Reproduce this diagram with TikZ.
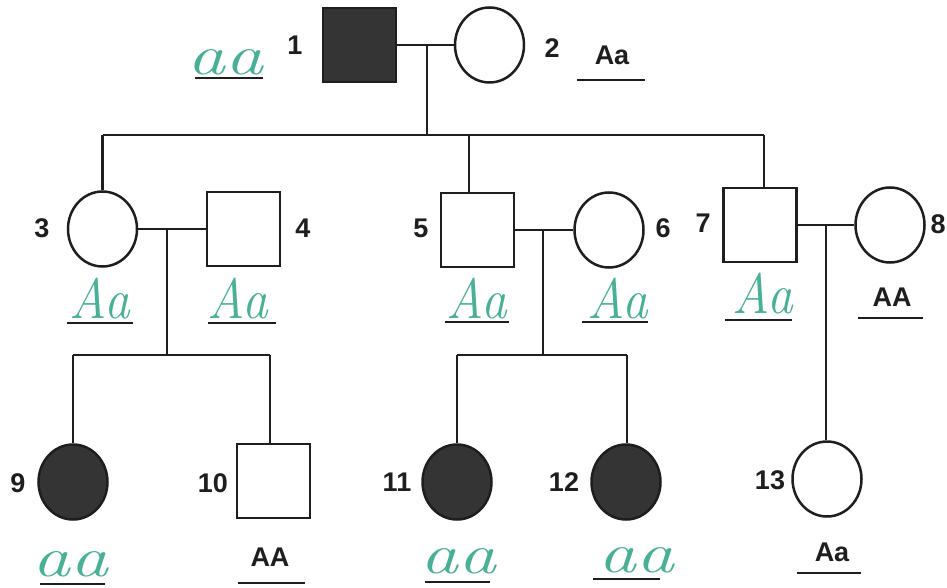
\documentclass[tikz,border=0pt]{standalone}
\usepackage{fontspec}
\newfontfamily\numfont{Liberation Sans}
\usetikzlibrary{shapes.geometric}
\definecolor{handc}{RGB}{72,176,150}
\definecolor{ink}{RGB}{30,30,30}
\definecolor{affect}{RGB}{52,52,52}
\tikzset{
  male/.style={draw=ink,line width=2.5pt,rectangle,minimum width=73pt,minimum height=74pt,inner sep=0pt},
  female/.style={draw=ink,line width=2.5pt,ellipse,minimum width=69pt,minimum height=75pt,inner sep=0pt},
  affected/.style={fill=affect},
  num/.style={font=\numfont\bfseries\fontsize{27}{27}\selectfont,text=ink,inner sep=0pt},
  geno/.style={font=\numfont\bfseries\fontsize{27}{27}\selectfont,text=ink,inner sep=0pt},
  hand/.style={font=\itshape\fontsize{54}{54}\selectfont,text=handc,inner sep=0pt},
  uline/.style={draw=ink,line width=2.6pt},
  link/.style={draw=ink,line width=2.2pt}
}
\newcommand{\hwaa}{\scalebox{1.4}[1.05]{aa}}
\newcommand{\hwAa}{\scalebox{0.95}[1.05]{Aa}}
\begin{document}
\begin{tikzpicture}[x=1pt,y=-1pt]
\useasboundingbox (0,0) rectangle (947,588);
\fill[white] (0,0) rectangle (947,588);

% generation I
\node[male,affected] (p1) at (359.5,45) {};
\node[female] (p2) at (489.5,45) {};
% generation II
\node[female] (p3) at (102.5,229) {};
\node[male] (p4) at (243.5,229) {};
\node[male] (p5) at (477.5,230) {};
\node[female] (p6) at (609,230) {};
\node[male] (p7) at (760,225) {};
\node[female] (p8) at (890,225) {};
% generation III
\node[female,affected] (p9) at (73,482) {};
\node[male] (p10) at (273.5,481) {};
\node[female,affected] (p11) at (457,482) {};
\node[female,affected] (p12) at (626,482) {};
\node[female] (p13) at (827,479) {};

% connectors
\coordinate (m12) at (427,45);
\coordinate (s1m) at (427,135);
\coordinate (s1a) at (102.5,135);
\coordinate (s1b) at (469,135);
\coordinate (s1c) at (764,135);
\draw[link] (p1) -- (p2);
\draw[link] (m12) -- (s1m);
\draw[link] (s1a) -- (s1c);
\draw[link] (s1a) -- (p3);
\draw[link] (s1b) -- (s1b |- p5.north);
\draw[link] (s1c) -- (s1c |- p7.north);

\coordinate (m34) at (167,229);
\coordinate (s2m) at (167,355);
\coordinate (s2a) at (73,355);
\coordinate (s2b) at (270,355);
\draw[link] (p3) -- (p4);
\draw[link] (m34) -- (s2m);
\draw[link] (s2a) -- (s2b);
\draw[link] (s2a) -- (p9);
\draw[link] (s2b) -- (s2b |- p10.north);

\coordinate (m56) at (543,230);
\coordinate (s3m) at (543,355);
\coordinate (s3a) at (457,355);
\coordinate (s3b) at (627,355);
\draw[link] (p5) -- (p6);
\draw[link] (m56) -- (s3m);
\draw[link] (s3a) -- (s3b);
\draw[link] (s3a) -- (p11);
\draw[link] (s3b) -- (s3b |- p12.north);

\coordinate (m78) at (826,225);
\draw[link] (p7) -- (p8);
\draw[link] (m78) -- (m78 |- p13.north);

% numbers
\node[num] (l1) at (295,45) {1};
\node[num] (l2) at (552,48) {2};
\node[num] (l3) at (42,228) {3};
\node[num] (l4) at (303,228) {4};
\node[num] (l5) at (421,228) {5};
\node[num] (l6) at (663,228) {6};
\node[num] (l7) at (703,223) {7};
\node[num] (l8) at (938,224) {8};
\node[num] (l9) at (18,483) {9};
\node[num] (l10) at (213,483) {10};
\node[num] (l11) at (397,482) {11};
\node[num] (l12) at (564,482) {12};
\node[num] (l13) at (770,480) {13};

% printed genotypes
\node[geno] (g2) at (612,55) {Aa};
\draw[uline] (577,80) -- (645,80);
\node[geno] (g8) at (892,297) {AA};
\draw[uline] (858,318) -- (923,318);
\node[geno] (g10) at (270,557) {AA};
\draw[uline] (238,583) -- (305,583);
\node[geno] (g13) at (832,552) {Aa};
\draw[uline] (797,573) -- (861,573);

% handwritten genotypes
\node[hand] (g1) at (225,62) {\hwaa};
\draw[uline] (195,78) -- (263,78);
\node[hand] (g3) at (100,299) {\hwAa};
\draw[uline] (67,323) -- (133,323);
\node[hand] (g4) at (238,299) {\hwAa};
\draw[uline] (208,323) -- (276,323);
\node[hand] (g5) at (477,299) {\hwAa};
\draw[uline] (445,322) -- (509,322);
\node[hand] (g6) at (618,299) {\hwAa};
\draw[uline] (582,322) -- (648,322);
\node[hand] (g7) at (763,294) {\hwAa};
\draw[uline] (725,320) -- (792,320);
\node[hand] (g9) at (70,564) {\hwaa};
\draw[uline] (40,584) -- (105,584);
\node[hand] (g11) at (458,561) {\hwaa};
\draw[uline] (425,582) -- (490,582);
\node[hand] (g12) at (636,560) {\hwaa};
\draw[uline] (593,579) -- (660,579);
\end{tikzpicture}
\end{document}
